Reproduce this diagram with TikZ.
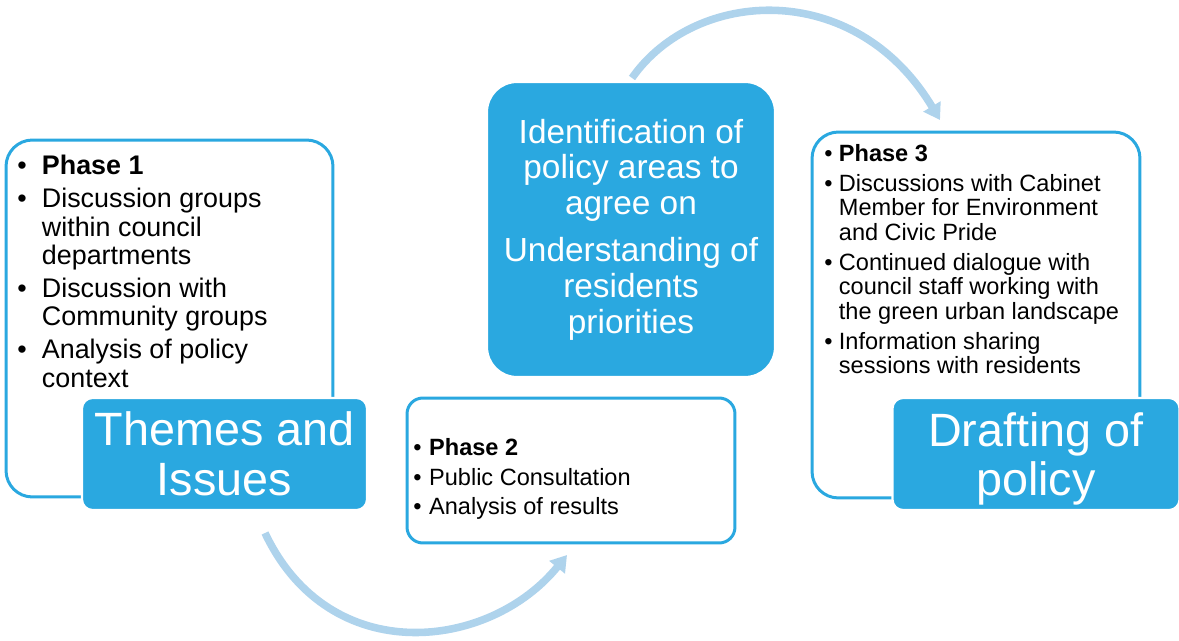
\documentclass[tikz,border=0pt]{standalone}
\usepackage{fontspec}
\setmainfont{Liberation Sans}
\usetikzlibrary{arrows.meta}
\definecolor{boxblue}{HTML}{2AA8E0}
\definecolor{arrowblue}{HTML}{AED3EC}
\newcommand{\bul}[1]{\makebox[#1][l]{\textbullet}}

\begin{document}
\begin{tikzpicture}[x=0.02cm,y=-0.02cm,
  phasebox/.style={draw=boxblue,line width=1.7pt,fill=white,rounded corners=15pt,inner sep=0pt},
  titlebox/.style={fill=boxblue,draw=white,line width=1.2pt,rounded corners=6pt,text=white,align=center,inner sep=0pt},
  phasetext/.style={anchor=north west,align=left,inner sep=0pt},
  cycle/.style={draw=arrowblue,line width=4.3pt,-{Triangle[length=9pt,width=11pt]}}]
\useasboundingbox (0,0) rectangle (1179,641);

\coordinate (b0) at (265,533);
\coordinate (b1) at (567,555);
\draw[cycle] (b0) .. controls (330,670) and (490,650) .. (b1);
\coordinate (t0) at (632,78);
\coordinate (t1) at (940,120);
\draw[cycle] (t0) .. controls (695,-12) and (855,-22) .. (t1);

\node[phasebox,minimum width=6.54cm,minimum height=7.14cm] (p1box) at (169.5,318.5) {};
\node[titlebox,minimum width=5.7cm,minimum height=2.24cm,font=\fontsize{26.6}{28.3}\selectfont] (themes) at (224.5,454) {Themes and\\Issues};
\node[phasetext,font=\fontsize{15.3}{16.2}\selectfont] (p1text) at (17,155) {\bul{14pt}\textbf{Phase 1}\\[2.5pt]
  \bul{14pt}Discussion groups\\ \hspace*{14pt}within council\\ \hspace*{14pt}departments\\[2.5pt]
  \bul{14pt}Discussion with\\ \hspace*{14pt}Community groups\\[2.5pt]
  \bul{14pt}Analysis of policy\\ \hspace*{14pt}context};

\node[phasebox,rounded corners=9pt,minimum width=6.56cm,minimum height=2.9cm] (p2box) at (571,470.5) {};
\node[phasetext,font=\fontsize{13.4}{16.7}\selectfont] (p2text) at (413,438.3) {\bul{9pt}\textbf{Phase 2}\\
  \bul{9pt}Public Consultation\\
  \bul{9pt}Analysis of results};

\node[titlebox,rounded corners=17pt,minimum width=5.76cm,minimum height=5.9cm,font=\fontsize{19}{20.4}\selectfont] (centre) at (631,229.5) {Identification of\\policy areas to\\agree on\\[6.2pt]Understanding of\\residents\\priorities};

\node[phasebox,minimum width=6.56cm,minimum height=7.32cm] (p3box) at (976,315) {};
\node[titlebox,minimum width=5.74cm,minimum height=2.24cm,text depth=0pt,font=\fontsize{26.6}{28.3}\selectfont] (drafting) at (1036,454) {Drafting of\\policy};
\node[phasetext,font=\fontsize{13.4}{13.9}\selectfont] (p3text) at (824,144.3) {\bul{8.3pt}\textbf{Phase 3}\\[3.1pt]
  \bul{8.3pt}Discussions with Cabinet\\ \hspace*{8.3pt}Member for Environment\\ \hspace*{8.3pt}and Civic Pride\\[3.1pt]
  \bul{8.3pt}Continued dialogue with\\ \hspace*{8.3pt}council staff working with\\ \hspace*{8.3pt}the green urban landscape\\[3.1pt]
  \bul{8.3pt}Information sharing\\ \hspace*{8.3pt}sessions with residents};

\end{tikzpicture}
\end{document}
